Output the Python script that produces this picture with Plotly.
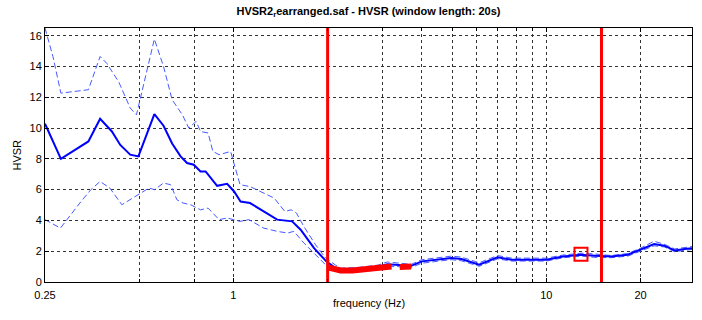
import math
import plotly.graph_objects as go

# Mean H/V curve
freq_mean = [0.25, 0.281, 0.344, 0.375, 0.409, 0.435, 0.468, 0.497, 0.559, 0.598, 0.637,
             0.678, 0.711, 0.747, 0.785, 0.815, 0.887, 0.955, 1.005, 1.054, 1.13, 1.25,
             1.38, 1.54, 1.64, 1.81, 1.98, 2.12, 2.2, 2.52, 2.9, 3.1, 3.33, 3.7, 4.0, 4.5,
             4.97, 5.35, 6.1, 6.98, 7.74, 8.97, 10, 11.3, 12.9, 14.3, 16.1, 18.2, 20, 22.1,
             23.8, 25.7, 27.7, 29.2]
hv_mean = [10.28, 8.0, 9.13, 10.6, 9.78, 8.9, 8.27, 8.16, 10.9, 10.15, 9.0,
           8.16, 7.73, 7.62, 7.18, 7.18, 6.25, 6.38, 5.88, 5.23, 5.13, 4.58,
           4.05, 3.94, 3.4, 2.2, 1.34, 0.91, 0.72, 0.8, 0.97, 1.15, 1.12, 1.05, 1.34, 1.45,
           1.56, 1.49, 1.12, 1.6, 1.45, 1.45, 1.45, 1.66, 1.77, 1.71, 1.66, 1.77, 2.1, 2.47,
           2.36, 2.05, 2.14, 2.2]

# Mean + standard deviation
freq_upper = [0.25, 0.265, 0.281, 0.344, 0.375, 0.394, 0.43, 0.468, 0.49, 0.559, 0.598,
              0.637, 0.687, 0.72, 0.76, 0.785, 0.83, 0.86, 0.9, 0.98, 1.0, 1.05, 1.13,
              1.25, 1.35, 1.46, 1.53, 1.59, 1.68, 1.83, 1.97, 2.12, 2.2, 2.52, 2.9, 3.1,
              3.33, 3.7, 4.0, 4.5, 4.97, 5.35, 6.1, 6.98, 7.74, 8.97, 10, 11.3, 12.9, 14.3,
              16.1, 18.2, 20, 22.1, 23.8, 25.7, 27.7, 29.2]
hv_upper = [16.5, 14.65, 12.27, 12.49, 14.65, 14.2, 13.0, 11.3, 10.86, 15.78, 14.0,
            11.84, 10.86, 10.0, 10.43, 9.78, 9.68, 8.48, 8.27, 8.48, 7.83, 6.32, 6.2,
            5.78, 5.45, 4.58, 4.69, 4.48, 3.6, 2.42, 1.56, 1.1, 0.9, 0.95, 1.1, 1.3,
            1.25, 1.15, 1.45, 1.6, 1.68, 1.62, 1.25, 1.72, 1.55, 1.55, 1.55, 1.75, 1.87, 1.82,
            1.72, 1.85, 2.2, 2.65, 2.45, 2.15, 2.25, 2.3]

# Mean - standard deviation
freq_lower = [0.25, 0.28, 0.323, 0.35, 0.375, 0.403, 0.44, 0.475, 0.505, 0.537, 0.56,
              0.598, 0.63, 0.66, 0.69, 0.73, 0.785, 0.83, 0.9, 0.955, 1.05, 1.12, 1.25,
              1.38, 1.49, 1.56, 1.68, 1.85, 1.97, 2.12, 2.2, 2.52, 2.9, 3.1, 3.33, 3.7,
              4.0, 4.5, 4.97, 5.35, 6.1, 6.98, 7.74, 8.97, 10, 11.3, 12.9, 14.3, 16.1, 18.2,
              20, 22.1, 23.8, 25.7, 27.7, 29.2]
hv_lower = [4.05, 3.5, 5.13, 5.99, 6.53, 6.1, 5.02, 5.45, 5.78, 6.1, 6.0,
            6.43, 6.32, 5.34, 5.13, 5.02, 4.69, 4.8, 4.05, 4.16, 3.94, 4.05, 3.5,
            3.29, 3.18, 3.29, 2.53, 1.66, 1.12, 0.75, 0.6, 0.65, 0.85, 1.0, 1.0, 0.95,
            1.22, 1.35, 1.45, 1.38, 1.02, 1.5, 1.36, 1.36, 1.36, 1.57, 1.68, 1.6, 1.58, 1.68,
            2.0, 2.35, 2.28, 1.97, 2.05, 2.12]

# Highlighted stretches of the curve
seg1_freq = [2.0, 2.1, 2.2, 2.4, 2.6, 2.8, 3.0, 3.2]
seg1_hv = [0.95, 0.85, 0.75, 0.75, 0.82, 0.88, 0.95, 1.0]
seg2_freq = [3.4, 3.55, 3.7]
seg2_hv = [0.98, 0.95, 1.0]

# Analysis frequency limits and the picked peak
freq_limits = [2.0, 15.0]
peak_freq = [12.9]
peak_hv = [1.8]

# Labelled ticks and extra grid positions on the frequency axis
tick_vals = [0.25, 1, 10, 20]
tick_text = ["0.25", "1", "10", "20"]
grid_vals = [0.5, 0.75, 2, 3, 4, 5, 6, 7, 8, 9]
y_ticks = [0, 2, 4, 6, 8, 10, 12, 14, 16]

y_max = 16.5
x_range = [0.25, 29.2]

fig = go.Figure()

dash_col = "rgb(70,90,255)"
fig.add_trace(go.Scatter(x=freq_upper, y=hv_upper, mode="lines",
                         line=dict(color=dash_col, width=1, dash="6px,3px")))
fig.add_trace(go.Scatter(x=freq_lower, y=hv_lower, mode="lines",
                         line=dict(color=dash_col, width=1, dash="6px,3px")))
fig.add_trace(go.Scatter(x=freq_mean, y=hv_mean, mode="lines",
                         line=dict(color="#0000ff", width=2)))

for fx, fy in ((seg1_freq, seg1_hv), (seg2_freq, seg2_hv)):
    fig.add_trace(go.Scatter(x=fx, y=fy, mode="lines",
                             line=dict(color="#ff0000", width=6)))

for f in freq_limits:
    fig.add_trace(go.Scatter(x=[f, f], y=[0, y_max], mode="lines",
                             line=dict(color="#ff0000", width=3)))

fig.add_trace(go.Scatter(x=peak_freq, y=peak_hv, mode="markers",
                         marker=dict(symbol="square-open", size=13, color="#ff0000",
                                     line=dict(width=2, color="#ff0000"))))

fig.update_layout(
    width=702, height=320,
    margin=dict(l=45, r=10, t=28, b=38, autoexpand=False),
    paper_bgcolor="white", plot_bgcolor="white",
    showlegend=False,
    font=dict(family="Liberation Sans, Arial, sans-serif", size=11, color="black"),
    title=dict(text="<b>HVSR2<sub>r</sub>earranged.saf - HVSR (window length: 20s)</b>",
               x=0.5, xref="paper", xanchor="center", y=0.965, yanchor="middle",
               font=dict(size=11)),
    annotations=[
        dict(text="frequency (Hz)", xref="paper", yref="paper", x=0.5, y=-0.083,
             xanchor="center", yanchor="middle", showarrow=False, font=dict(size=11)),
        dict(text="HVSR", xref="paper", yref="paper", x=-0.044, y=0.5,
             xanchor="center", yanchor="middle", textangle=-90, showarrow=False,
             font=dict(size=11)),
    ],
)

fig.update_xaxes(
    type="log", range=[math.log10(x_range[0]), math.log10(x_range[1])],
    tickmode="array", tickvals=tick_vals, ticktext=tick_text,
    showgrid=True, gridcolor="#333333", griddash="dot", gridwidth=1,
    minor=dict(tickmode="array", tickvals=grid_vals, showgrid=True,
               gridcolor="#333333", griddash="dot", gridwidth=1,
               ticks="inside", ticklen=3, tickcolor="black"),
    showline=True, linecolor="black", linewidth=1, mirror="ticks",
    ticks="inside", ticklen=4, tickcolor="black", ticklabelstandoff=3,
    zeroline=False, automargin=False,
)
fig.update_yaxes(
    range=[0, y_max], tickmode="array", tickvals=y_ticks,
    showgrid=True, gridcolor="#333333", griddash="dot", gridwidth=1,
    showline=True, linecolor="black", linewidth=1, mirror="ticks",
    ticks="inside", ticklen=4, tickcolor="black",
    zeroline=False, automargin=False,
)

fig.write_html("out.html")
